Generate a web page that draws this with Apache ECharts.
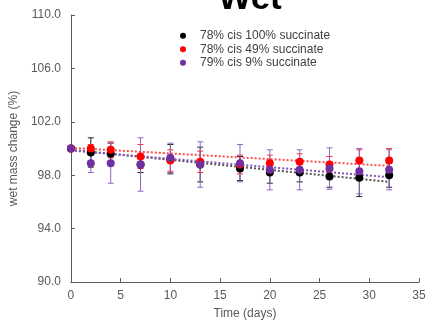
<!DOCTYPE html>
<html>
<head>
<meta charset="utf-8">
<script src="https://cdn.jsdelivr.net/npm/echarts@6/dist/echarts.min.js"></script>
<style>
    html, body { margin: 0; padding: 0; background: #fff; }
    #chart { width: 431px; height: 325px; }
</style>
</head>
<body>
<div id="chart"></div>
<script>
// values
const days = [0, 2, 4, 7, 10, 13, 17, 20, 23, 26, 29, 32];
const names = ['78% cis 100% succinate', '78% cis 49% succinate', '79% cis 9% succinate'];
const black = [100.0, 99.7, 99.6, 98.8, 99.2, 98.8, 98.5, 98.2, 98.2, 97.9, 97.8, 98.0];
const blackErr = [0, 1.1, 0.8, 0.6, 1.1, 1.3, 0.9, 0.8, 0.7, 0.8, 1.4, 0.9];
const red = [100.0, 100.0, 99.9, 99.4, 99.1, 99.0, 98.8, 98.9, 99.0, 98.8, 99.1, 99.1];
const redErr = [0, 0.3, 0.6, 0.9, 0.8, 0.8, 0.7, 0.6, 0.6, 0.6, 0.8, 0.9];
const purple = [100.0, 98.9, 98.9, 98.8, 99.3, 98.8, 98.9, 98.4, 98.4, 98.5, 98.3, 98.4];
const purpleErr = [0, 0.7, 1.5, 2.0, 1.1, 1.7, 1.4, 1.5, 1.5, 1.55, 1.7, 1.5];
// trendline ends (day 0 and day 32)
const trendDays = [0, 32];
const blackTrend = [99.9, 97.5];
const redTrend = [100.05, 98.7];
const purpleTrend = [99.85, 97.85];
const yTicks = [90, 94, 98, 102, 106, 110];

const font = 'Liberation Sans, Arial, sans-serif';

function pairs(xs, ys) {
    return xs.map((x, i) => [x, ys[i]]);
}
function errData(vals, errs) {
    return days.map((d, i) => [d, vals[i], errs[i]]);
}
function errSeries(vals, errs, color) {
    return {
        type: 'custom',
        data: errData(vals, errs),
        z: 2,
        silent: true,
        renderItem: function (params, api) {
            const x = api.value(0), v = api.value(1), e = api.value(2);
            if (!e) return null;
            const top = api.coord([x, v + e]);
            const bot = api.coord([x, v - e]);
            const w = 3;
            const style = { stroke: color, lineWidth: 1 };
            return {
                type: 'group',
                children: [
                    { type: 'line', shape: { x1: top[0], y1: top[1], x2: bot[0], y2: bot[1] }, style: style },
                    { type: 'line', shape: { x1: top[0] - w, y1: top[1], x2: top[0] + w, y2: top[1] }, style: style },
                    { type: 'line', shape: { x1: bot[0] - w, y1: bot[1], x2: bot[0] + w, y2: bot[1] }, style: style }
                ]
            };
        }
    };
}
function trendSeries(ys, color) {
    return {
        type: 'line',
        data: pairs(trendDays, ys),
        symbol: 'none',
        silent: true,
        z: 1,
        lineStyle: { color: color, width: 2, type: [2, 2] }
    };
}
function dotSeries(name, vals, color) {
    return {
        name: name,
        type: 'scatter',
        data: pairs(days, vals),
        symbol: 'circle',
        symbolSize: 8,
        z: 3,
        itemStyle: { color: color, opacity: 1 }
    };
}

let myChart = echarts.init(document.getElementById('chart'));
myChart.setOption({
    animation: false,
    title: {
        text: 'Wet',
        left: 245,
        textAlign: 'center',
        top: -23,
        textStyle: { fontFamily: font, fontSize: 35, fontWeight: 'bold', color: '#000' }
    },
    legend: {
        data: names,
        orient: 'vertical',
        left: 175,
        top: 24,
        icon: 'circle',
        itemWidth: 6,
        itemHeight: 6,
        itemGap: 0,
        itemStyle: { opacity: 1 },
        textStyle: { fontFamily: font, fontSize: 12, color: '#404040', lineHeight: 13.5, padding: [0, 0, 0, 9] }
    },
    grid: { left: 68, right: 12, top: 15, bottom: 43 },
    xAxis: {
        type: 'value',
        min: 0,
        max: 35,
        interval: 5,
        name: 'Time (days)',
        nameLocation: 'middle',
        nameGap: 26,
        nameTextStyle: { fontFamily: font, fontSize: 12, color: '#595959' },
        axisLine: { lineStyle: { color: '#595959', width: 1 } },
        axisTick: { inside: true, length: 4, lineStyle: { color: '#595959' } },
        axisLabel: { fontFamily: font, fontSize: 12, color: '#595959', margin: 8 },
        splitLine: { show: false }
    },
    yAxis: {
        type: 'value',
        min: yTicks[0],
        max: yTicks[yTicks.length - 1],
        interval: 4,
        name: 'wet mass change (%)',
        nameLocation: 'middle',
        nameGap: 44,
        nameTextStyle: { fontFamily: font, fontSize: 12, color: '#595959' },
        axisLine: { show: true, lineStyle: { color: '#595959', width: 1 } },
        axisTick: { show: true, inside: true, length: 4, lineStyle: { color: '#595959' } },
        axisLabel: {
            fontFamily: font, fontSize: 12, color: '#595959', margin: 10,
            formatter: v => v.toFixed(1)
        },
        splitLine: { show: false }
    },
    series: [
        trendSeries(blackTrend, '#555555'),
        trendSeries(redTrend, '#ff4a4a'),
        trendSeries(purpleTrend, '#8556b8'),
        errSeries(black, blackErr, '#222222'),
        errSeries(red, redErr, '#ff3030'),
        errSeries(purple, purpleErr, '#9166c4'),
        dotSeries(names[0], black, '#000000'),
        dotSeries(names[1], red, '#ff0000'),
        dotSeries(names[2], purple, '#7030a0')
    ]
});
window.addEventListener('resize', myChart.resize);
</script>
</body>
</html>
